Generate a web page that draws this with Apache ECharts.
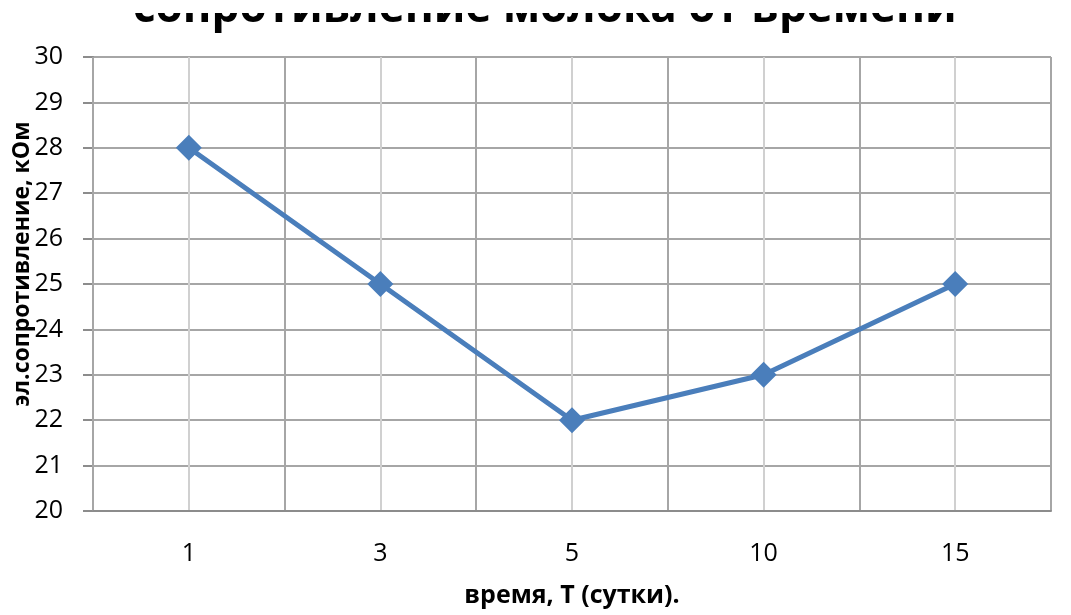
<!DOCTYPE html>
<html><head><meta charset="utf-8">
<script src="https://cdn.jsdelivr.net/npm/echarts@6/dist/echarts.min.js"></script>
<style>html,body{margin:0;padding:0;background:#fff}#c{width:1071px;height:615px}</style>
</head><body><div id="c"></div>
<script>
var categories = ['1', '3', '5', '10', '15'];
var resistance = [28, 25, 22, 23, 25];
var halfSteps = ['a','b','c','d','e','f','g','h','i','j'];
var titleText = 'сопротивление молока от времени';
var xName = 'время, Т (сутки).';
var yName = 'эл.сопротивление, кОм';

var chart = echarts.init(document.getElementById('c'));
chart.setOption({
  animation: false,
  title: {
    text: titleText, left: 128, top: -18,
    textStyle: {fontFamily: 'Open Sans', fontWeight: 'bold', fontSize: 44, color: '#000'}
  },
  graphic: [{type: 'rect', shape: {x: 0, y: 0, width: 1071, height: 13}, style: {fill: '#fff'}, z: 100}],
  grid: {left: 93, right: 20, top: 57, bottom: 104, outerBoundsMode: 'none', containLabel: false},
  xAxis: [{
    type: 'category', data: categories, boundaryGap: true,
    axisLine: {lineStyle: {color: '#8c8c8c', width: 2}},
    axisTick: {show: false},
    axisLabel: {margin: 30, fontFamily: 'Open Sans', fontSize: 25, color: '#000'},
    splitLine: {show: true, lineStyle: {color: '#a6a6a6', width: 2}},
    name: xName, nameLocation: 'middle', nameGap: 72, nameMoveOverlap: false,
    nameTextStyle: {fontFamily: 'Open Sans', fontWeight: 'bold', fontSize: 25, color: '#000'},
    z: 3
  }, {
    type: 'category', data: halfSteps, boundaryGap: true, position: 'bottom',
    axisLine: {show: false}, axisTick: {show: false}, axisLabel: {show: false},
    splitLine: {show: true, interval: function (i) { return i % 2 === 1; }, lineStyle: {color: '#d0d0d0', width: 2}}
  }],
  yAxis: {
    type: 'value', min: 20, max: 30, interval: 1,
    axisLine: {show: true, lineStyle: {color: '#8c8c8c', width: 2}},
    axisTick: {show: true, length: 10, lineStyle: {color: '#8c8c8c', width: 2}},
    axisLabel: {margin: 30, fontFamily: 'Open Sans', fontSize: 25, color: '#000'},
    splitLine: {show: true, lineStyle: {color: '#a6a6a6', width: 2}},
    name: yName, nameLocation: 'middle', nameGap: 59, nameRotate: 90, nameMoveOverlap: false,
    nameTextStyle: {fontFamily: 'Open Sans', fontWeight: 'bold', fontSize: 23, color: '#000', padding: [0, 0, 0, 40]}
  },
  series: [{
    type: 'line', data: resistance, xAxisIndex: 0,
    symbol: 'diamond', symbolSize: 26,
    lineStyle: {color: '#4a7ebb', width: 5},
    itemStyle: {color: '#4a7ebb'}
  }]
});
</script></body></html>
